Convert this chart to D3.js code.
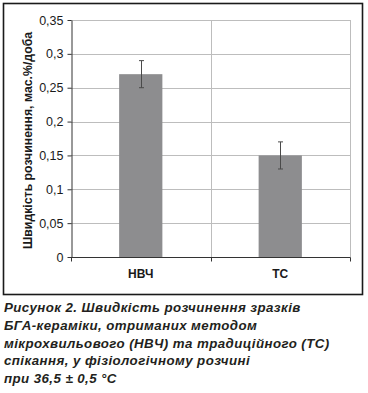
<!DOCTYPE html>
<html><head><meta charset="utf-8">
<script src="https://cdn.jsdelivr.net/npm/d3@7"></script>
<style>body{margin:0;background:#fff}svg{display:block}</style>
</head><body>
<svg id="c" width="368" height="393"></svg>
<script>
const categories = ["НВЧ", "ТС"];
const values = [0.27, 0.15];
const errLow = [0.25, 0.13];
const errHigh = [0.29, 0.17];
const yTicks = [0, 0.05, 0.1, 0.15, 0.2, 0.25, 0.3, 0.35];
const yTickLabels = ["0", "0,05", "0,1", "0,15", "0,2", "0,25", "0,3", "0,35"];
const yTitle = "Швидкість розчинення, мас.%/доба";
const caption = [
  "Рисунок 2. Швидкість розчинення зразків",
  "БГА-кераміки, отриманих методом",
  "мікрохвильового (НВЧ) та традиційного (ТС)",
  "спікання, у фізіологічному розчині",
  "при 36,5 ± 0,5 °C"
];

const svg = d3.select("#c");
const L = 71, R = 350, T = 20, B = 257;
const x = d3.scaleBand().domain(categories).range([L, R]).padding(0);
const y = d3.scaleLinear().domain([0, 0.35]).range([B, T]);

// frame
svg.append("rect").attr("x", 3.5).attr("y", 3.5).attr("width", 359).attr("height", 291)
  .attr("fill", "none").attr("stroke", "#1a1a1a").attr("stroke-width", 1.6);

// grid
const g = svg.append("g");
g.selectAll("line.h").data(yTicks.slice(1)).join("line")
  .attr("x1", L).attr("x2", R).attr("y1", d => Math.round(y(d)) + 0.5).attr("y2", d => Math.round(y(d)) + 0.5)
  .attr("stroke", "#bdbdbd").attr("stroke-width", 1);
const vgrid = categories.map(c => x(c) + x.bandwidth());
g.selectAll("line.v").data(vgrid).join("line")
  .attr("x1", d => Math.round(d) + 0.5).attr("x2", d => Math.round(d) + 0.5).attr("y1", T).attr("y2", B)
  .attr("stroke", "#bdbdbd").attr("stroke-width", 1);

// bars
const bw = x.bandwidth() * 0.31;
svg.selectAll("rect.bar").data(values).join("rect")
  .attr("x", (d, i) => x(categories[i]) + (x.bandwidth() - bw) / 2)
  .attr("y", d => y(d)).attr("width", bw).attr("height", d => B - y(d))
  .attr("fill", "#8d8d8f");

// error bars
const eg = svg.append("g").attr("stroke", "#4a4a4a").attr("stroke-width", 1);
categories.forEach((c, i) => {
  const cx = Math.round(x(c) + x.bandwidth() / 2) + 0.5;
  eg.append("line").attr("x1", cx).attr("x2", cx).attr("y1", y(errLow[i])).attr("y2", y(errHigh[i]));
  eg.append("line").attr("x1", cx - 2.5).attr("x2", cx + 2.5).attr("y1", y(errLow[i])).attr("y2", y(errLow[i]));
  eg.append("line").attr("x1", cx - 2.5).attr("x2", cx + 2.5).attr("y1", y(errHigh[i])).attr("y2", y(errHigh[i]));
});

// y axis
const ya = svg.append("g").attr("transform", `translate(${L + 0.5},0)`)
  .call(d3.axisLeft(y).tickValues(yTicks).tickFormat((d, i) => yTickLabels[i]).tickSize(4).tickSizeOuter(0));
ya.select(".domain").attr("stroke", "#333");
ya.selectAll(".tick line").attr("stroke", "#333");
ya.selectAll("text").attr("font-family", "Liberation Sans, Arial, sans-serif").attr("font-size", 12.5)
  .attr("fill", "#1a1a1a").attr("x", -8);

// x axis
const xa = svg.append("g").attr("transform", `translate(0,${B + 0.5})`);
xa.append("line").attr("x1", L).attr("x2", R + 0.5).attr("y1", 0).attr("y2", 0).attr("stroke", "#333");
xa.selectAll("line.t").data([L, ...vgrid]).join("line")
  .attr("x1", d => Math.round(d) + 0.5).attr("x2", d => Math.round(d) + 0.5).attr("y1", 0).attr("y2", 4)
  .attr("stroke", "#333");
xa.selectAll("text").data(categories).join("text")
  .attr("x", d => x(d) + x.bandwidth() / 2).attr("y", 20)
  .attr("text-anchor", "middle").attr("font-family", "Liberation Sans, Arial, sans-serif")
  .attr("font-weight", "bold").attr("font-size", 12).attr("fill", "#1a1a1a").text(d => d);

// y title
svg.append("text").attr("transform", `translate(32,${(T + B) / 2 + 2}) rotate(-90)`)
  .attr("text-anchor", "middle").attr("font-family", "Liberation Sans, Arial, sans-serif")
  .attr("font-weight", "bold").attr("font-size", 12.3).attr("fill", "#1a1a1a").text(yTitle);

// caption
svg.selectAll("text.cap").data(caption).join("text").attr("class", "cap")
  .attr("x", 4).attr("y", (d, i) => 312 + i * 17.8)
  .attr("font-family", "Liberation Sans, Arial, sans-serif").attr("font-weight", "bold")
  .attr("font-style", "italic").attr("font-size", 13.3).attr("letter-spacing", 0.42).attr("fill", "#231f20")
  .text(d => d);
</script>
</body></html>
